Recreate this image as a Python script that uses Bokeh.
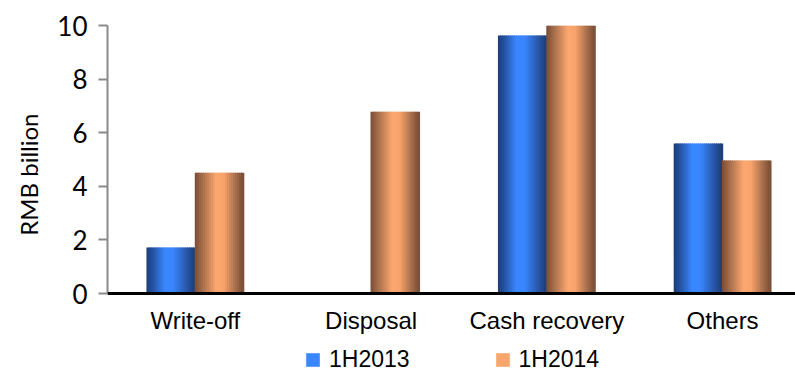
import numpy as np
from bokeh.plotting import figure
from bokeh.models import Range1d, FixedTicker, ColumnDataSource, Legend, LegendItem, Span, Title
from bokeh.core.properties import value
from bokeh.embed import file_html
from bokeh.resources import INLINE

categories = ["Write-off", "Disposal", "Cash recovery", "Others"]
series_names = ["1H2013", "1H2014"]
values_2013 = [1.72, 0.0, 9.63, 5.60]
values_2014 = [4.51, 6.78, 10.0, 4.96]
y_ticks = [0, 2, 4, 6, 8, 10]
y_title = "RMB billion"

# gradient styling (cylinder-like shading)
blue_stops = [(0.0, "#1c3d76"), (0.12, "#24509c"), (0.38, "#3a86ff"), (0.55, "#3a86ff"),
              (0.80, "#2b5cb2"), (1.0, "#1c3d76")]
orange_stops = [(0.0, "#784d35"), (0.15, "#a36c4a"), (0.45, "#fda870"), (0.60, "#f8a36b"),
                (0.85, "#a56d4b"), (1.0, "#784d35")]


def hex2rgb(h):
    h = h.lstrip("#")
    return np.array([int(h[i:i + 2], 16) for i in (0, 2, 4)], dtype=float)


def grad(stops, t):
    for (t0, c0), (t1, c1) in zip(stops[:-1], stops[1:]):
        if t0 <= t <= t1:
            f = (t - t0) / (t1 - t0) if t1 > t0 else 0
            c = hex2rgb(c0) * (1 - f) + hex2rgb(c1) * f
            return "#%02x%02x%02x" % tuple(int(round(v)) for v in c)
    return stops[-1][1]


N = 24
bar_w = 0.275


def strips(vals, offset, stops):
    xs, tops, cols = [], [], []
    for i, v in enumerate(vals):
        for k in range(N):
            t = (k + 0.5) / N
            xs.append(i + 0.5 + offset + (t - 0.5) * bar_w)
            tops.append(v)
            cols.append(grad(stops, t))
    return ColumnDataSource(dict(x=xs, top=tops, color=cols))


W, H = 795, 372
top_px, zero_px, left_px = 25, 293, 106
px_per_unit = (zero_px - top_px) / 10.0
y_min = -(H - zero_px) / px_per_unit

p = figure(width=W, height=H, output_backend="svg", toolbar_location=None,
           x_range=Range1d(0, (W - left_px) / 176), y_range=Range1d(y_min, 10),
           min_border_left=left_px, min_border_right=0, min_border_top=top_px, min_border_bottom=0)
p.outline_line_color = None
p.xgrid.visible = False
p.ygrid.visible = False
p.xaxis.visible = False

src13 = strips(values_2013, -bar_w / 2, blue_stops)
src14 = strips(values_2014, bar_w / 2, orange_stops)
strip_w = bar_w / N
r13 = p.vbar(x="x", top="top", bottom=0, width=strip_w * 1.6, fill_color="color",
             line_color=None, source=src13)
r14 = p.vbar(x="x", top="top", bottom=0, width=strip_w * 1.6, fill_color="color",
             line_color=None, source=src14)

# x axis line and category labels
p.add_layout(Span(location=0, dimension="width", line_color="black", line_width=3))
lab_src = ColumnDataSource(dict(x=[i + 0.5 for i in range(len(categories))],
                                y=[-27 / px_per_unit] * len(categories), text=categories))
p.text(x="x", y="y", text="text", source=lab_src, text_align="center", text_baseline="middle",
       text_font=value("Liberation Sans"), text_font_size="24px", text_color="black")

# y axis
p.yaxis.bounds = (0, 10)
p.yaxis.ticker = FixedTicker(ticks=y_ticks)
p.yaxis.axis_line_color = "#8a8a8a"
p.yaxis.axis_line_width = 2
p.yaxis.major_tick_line_color = "#8a8a8a"
p.yaxis.major_tick_line_width = 2
p.yaxis.major_tick_out = 9
p.yaxis.major_tick_in = 0
p.yaxis.minor_tick_line_color = None
p.yaxis.major_label_text_font = "Lato"
p.yaxis.major_label_text_font_size = "26px"
p.yaxis.major_label_text_color = "black"
p.yaxis.major_label_standoff = 11

ttl = Title(text=y_title, align="right", offset=88, standoff=23,
            text_font="Lato", text_font_size="24px", text_font_style="normal",
            text_color="black")
p.add_layout(ttl, "left")

mid = int(0.45 * N)
legend = Legend(items=[LegendItem(label=series_names[0], renderers=[r13], index=mid),
                       LegendItem(label=series_names[1], renderers=[r14], index=mid)],
                orientation="horizontal", location=(197, -1))
legend.glyph_width = 17
legend.glyph_height = 17
legend.label_standoff = 8
legend.spacing = 84
legend.padding = 0
legend.margin = 0
legend.border_line_color = None
legend.background_fill_alpha = 0
legend.label_text_font = "Liberation Sans"
legend.label_text_font_size = "23px"
legend.label_text_color = "black"
p.add_layout(legend, "center")

open("out.html", "w").write(file_html(p, INLINE))
